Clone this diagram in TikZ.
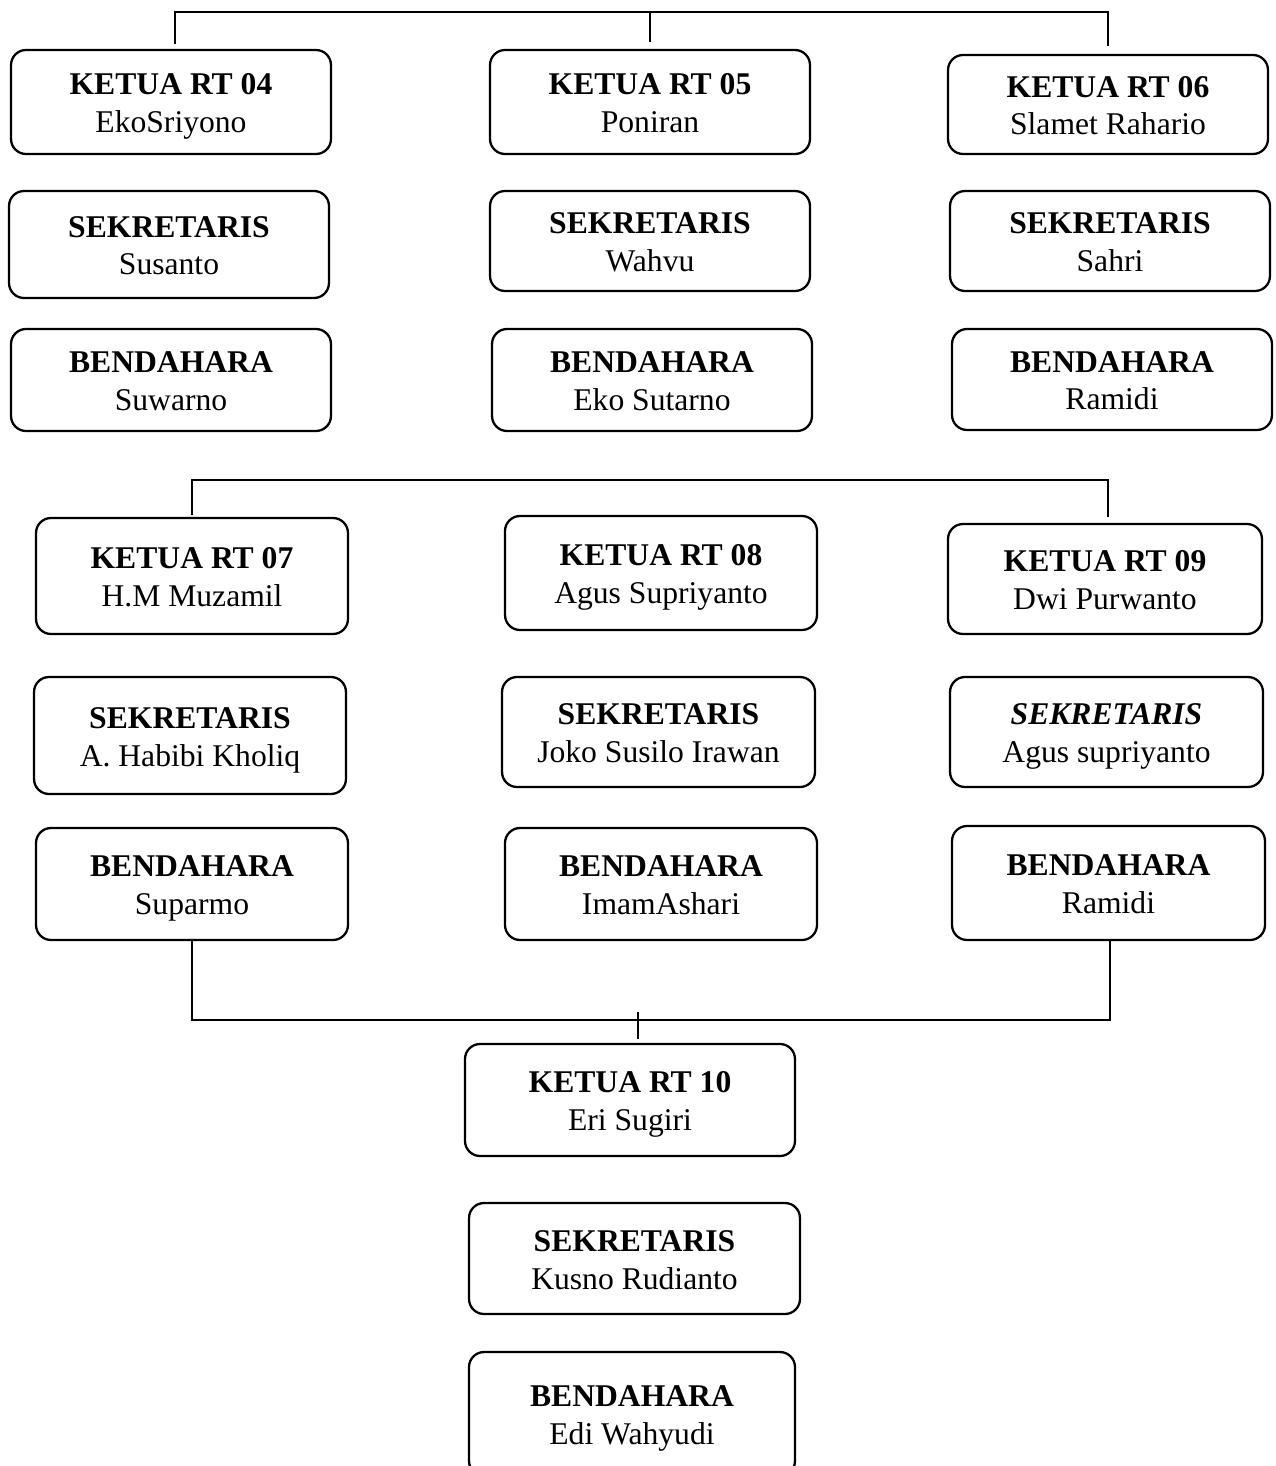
\documentclass[tikz,border=0pt]{standalone}
\usepackage{fontspec}
\setmainfont{Liberation Serif}
\usepackage{tikz}
\usetikzlibrary{calc,positioning}

\tikzset{
  kotak/.style={draw, line width=1.3pt, rounded corners=0.3cm, align=center, inner sep=0pt,
    text height=1.42cm, text depth=0.2cm,
    minimum width=6.4cm, font=\fontsize{18}{21.6}\selectfont},
  garis/.style={line width=0.6pt}
}

\begin{document}
\begin{tikzpicture}[x=0.02cm, y=-0.02cm]
        \useasboundingbox (0,0) rectangle (1275,1466);
        % Baris 1 (RT 04 - RT 06)
        \node[kotak, minimum height=2.08cm] (k04) at (171,102) {\textbf{KETUA RT 04}\\EkoSriyono};
        \node[kotak, minimum height=2.08cm] (k05) at (650,102) {\textbf{KETUA RT 05}\\Poniran};
        \node[kotak, minimum height=1.98cm] (k06) at (1108,104.5) {\textbf{KETUA RT 06}\\Slamet Rahario};
        \node[kotak, minimum height=2.14cm] (s04) at (169,244.5) {\textbf{SEKRETARIS}\\Susanto};
        \node[kotak, minimum height=2.0cm] (s05) at (650,241) {\textbf{SEKRETARIS}\\Wahvu};
        \node[kotak, minimum height=2.0cm] (s06) at (1110,241) {\textbf{SEKRETARIS}\\Sahri};
        \node[kotak, minimum height=2.04cm] (b04) at (171,380) {\textbf{BENDAHARA}\\Suwarno};
        \node[kotak, minimum height=2.04cm] (b05) at (652,380) {\textbf{BENDAHARA}\\Eko Sutarno};
        \node[kotak, minimum height=2.02cm] (b06) at (1112,379.5) {\textbf{BENDAHARA}\\Ramidi};

        % Baris 2 (RT 07 - RT 09)
        \node[kotak, minimum width=6.24cm, minimum height=2.32cm] (k07) at (192,576) {\textbf{KETUA RT 07}\\H.M Muzamil};
        \node[kotak, minimum width=6.24cm, minimum height=2.28cm] (k08) at (661,573) {\textbf{KETUA RT 08}\\Agus Supriyanto};
        \node[kotak, minimum width=6.28cm, minimum height=2.2cm] (k09) at (1105,579) {\textbf{KETUA RT 09}\\Dwi Purwanto};
        \node[kotak, minimum width=6.24cm, minimum height=2.34cm] (s07) at (190,735.5) {\textbf{SEKRETARIS}\\A. Habibi Kholiq};
        \node[kotak, minimum width=6.26cm, minimum height=2.2cm] (s08) at (658.5,732) {\textbf{SEKRETARIS}\\Joko Susilo Irawan};
        \node[kotak, minimum width=6.26cm, minimum height=2.2cm] (s09) at (1106.5,732) {\textbf{\textit{SEKRETARIS}}\\Agus supriyanto};
        \node[kotak, minimum width=6.24cm, minimum height=2.24cm] (b07) at (192,884) {\textbf{BENDAHARA}\\Suparmo};
        \node[kotak, minimum width=6.24cm, minimum height=2.24cm] (b08) at (661,884) {\textbf{BENDAHARA}\\ImamAshari};
        \node[kotak, minimum width=6.26cm, minimum height=2.28cm] (b09) at (1108.5,883) {\textbf{BENDAHARA}\\Ramidi};

        % Baris 3 (RT 10)
        \node[kotak, minimum width=6.6cm, minimum height=2.24cm] (k10) at (630,1100) {\textbf{KETUA RT 10}\\Eri Sugiri};
        \node[kotak, minimum width=6.62cm, minimum height=2.22cm] (s10) at (634.5,1258.5) {\textbf{SEKRETARIS}\\Kusno Rudianto};
        \node[kotak, minimum width=6.52cm, minimum height=2.48cm] (b10) at (632,1414) {\textbf{BENDAHARA}\\Edi Wahyudi};

        % Garis penghubung
        \coordinate (atas) at (650,12);
        \coordinate (tengah) at (650,480);
        \coordinate (bawah) at (638,1020);
        \draw[garis, shorten <=0.1cm, shorten >=0.16cm] ([xshift=0.08cm]k04.north) |- (atas) -| (k06.north);
        \draw[garis, shorten >=0.14cm] (atas) -- (k05.north);
        \draw[garis, shorten <=0.04cm, shorten >=0.12cm] (k07.north) |- (tengah) -| ([xshift=0.06cm]k09.north);
        \draw[garis] (b07.south) |- (bawah) -| ([xshift=0.03cm]b09.south);
        \draw[garis, shorten >=0.08cm] ([yshift=0.16cm]bawah) -- (bawah |- k10.north);
\end{tikzpicture}
\end{document}
